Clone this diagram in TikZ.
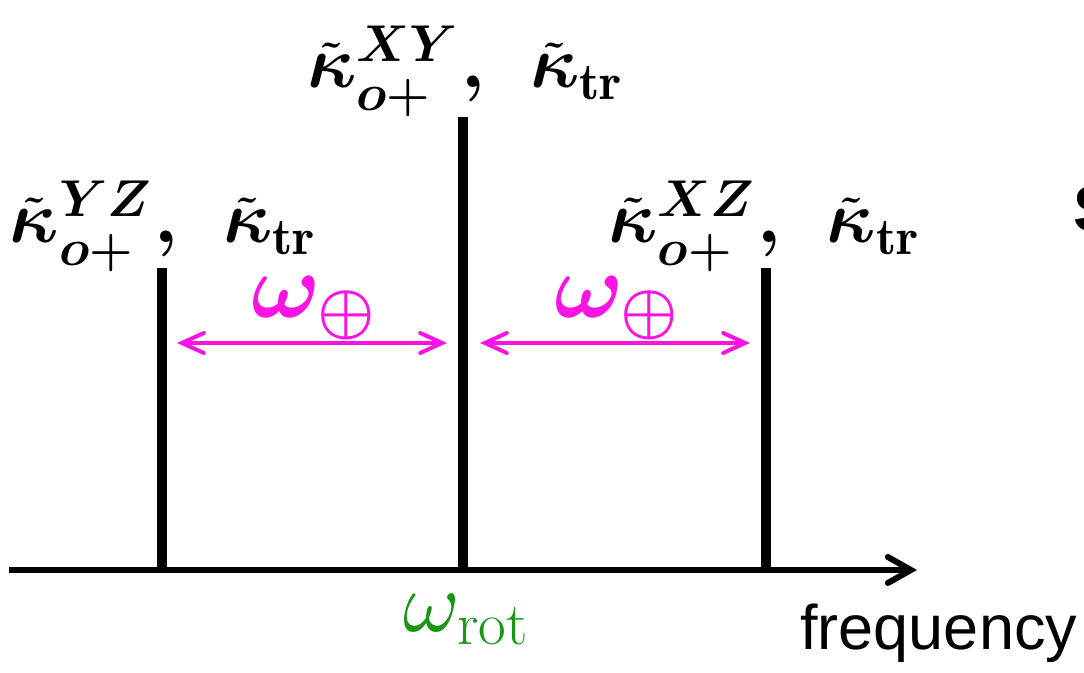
\documentclass[tikz,border=0pt]{standalone}
\usepackage{amsmath}
\usepackage{fontspec}
\DeclareFontFamily{OML}{cmm}{\skewchar\font'177}
\DeclareFontShape{OML}{cmm}{m}{it}{<-> cmmi10}{}
\DeclareFontShape{OML}{cmm}{b}{it}{<-> cmmib10}{}
\DeclareFontFamily{OMS}{cmsy}{\skewchar\font'60}
\DeclareFontShape{OMS}{cmsy}{m}{n}{<-> cmsy10}{}
\DeclareFontShape{OMS}{cmsy}{b}{n}{<-> cmbsy10}{}
\newfontfamily\arial{Liberation Sans}
\usetikzlibrary{arrows.meta}
\definecolor{mag}{RGB}{250,20,225}
\definecolor{grn}{RGB}{25,150,20}
\tikzset{
  bar/.style={line width=5pt},
  axisline/.style={line width=3pt,-{Straight Barb[length=11.5pt,width=13pt,line cap=round]}},
  sep/.style={mag,line width=2pt,{Straight Barb[length=11pt,width=10pt,line cap=round]}-{Straight Barb[length=11pt,width=10pt,line cap=round]}},
  peaklabel/.style={anchor=base,inner sep=0pt,font=\fontsize{37}{44}\selectfont\boldmath},
  seplabel/.style={anchor=base,inner sep=0pt,text=mag,font=\fontsize{46}{55}\selectfont\boldmath},
}
\newcommand{\peaktext}[1]{$\tilde\kappa^{#1}_{o+}\hspace{0.03em},\hspace{0.42em}\tilde\kappa_{\mathrm{tr}}$}
\begin{document}
\begin{tikzpicture}[x=0.5pt,y=-0.5pt]
\useasboundingbox (0,0) rectangle (1084,673);
% axis
\coordinate (ax0) at (9,570);
\coordinate (ax1) at (917,570);
\draw[axisline] (ax0) -- (ax1);
% bars
\coordinate (b1bot) at (162,570); \coordinate (b1top) at (162,268);
\coordinate (b2bot) at (463,570); \coordinate (b2top) at (463,117);
\coordinate (b3bot) at (766,570); \coordinate (b3top) at (766,268);
\draw[bar] (b1bot) -- (b1top);
\draw[bar] (b2bot) -- (b2top);
\draw[bar] (b3bot) -- (b3top);
% peak labels
\node[peaklabel] (l1) at (163,243) {\peaktext{YZ}};
\node[peaklabel] (l2) at (465,88) {\peaktext{XY}};
\node[peaklabel] (l3) at (764,243) {\peaktext{XZ}};
% separations
\coordinate (s1a) at (177,343); \coordinate (s1b) at (447,343);
\coordinate (s2a) at (480,343); \coordinate (s2b) at (750,343);
\draw[sep] (s1a) -- (s1b);
\draw[sep] (s2a) -- (s2b);
\node[seplabel] (w1) at (314,318) {$\omega_{\oplus}$};
\node[seplabel] (w2) at (617,318) {$\omega_{\oplus}$};
% rotation frequency
\node[anchor=base,inner sep=0pt,text=grn,font=\fontsize{43}{51}\selectfont] (wrot) at (466,632) {$\omega_{\mathrm{rot}}$};
% axis label
\node[anchor=base west,inner sep=0pt,font=\arial\fontsize{31.5}{38}\selectfont] (freq) at (800,650) {frequency};
% cut-off letter at right edge
\node[anchor=base west,inner sep=0pt,font=\arial\bfseries\fontsize{32.5}{39}\selectfont] (S) at (1073,232) {S};
\end{tikzpicture}
\end{document}
